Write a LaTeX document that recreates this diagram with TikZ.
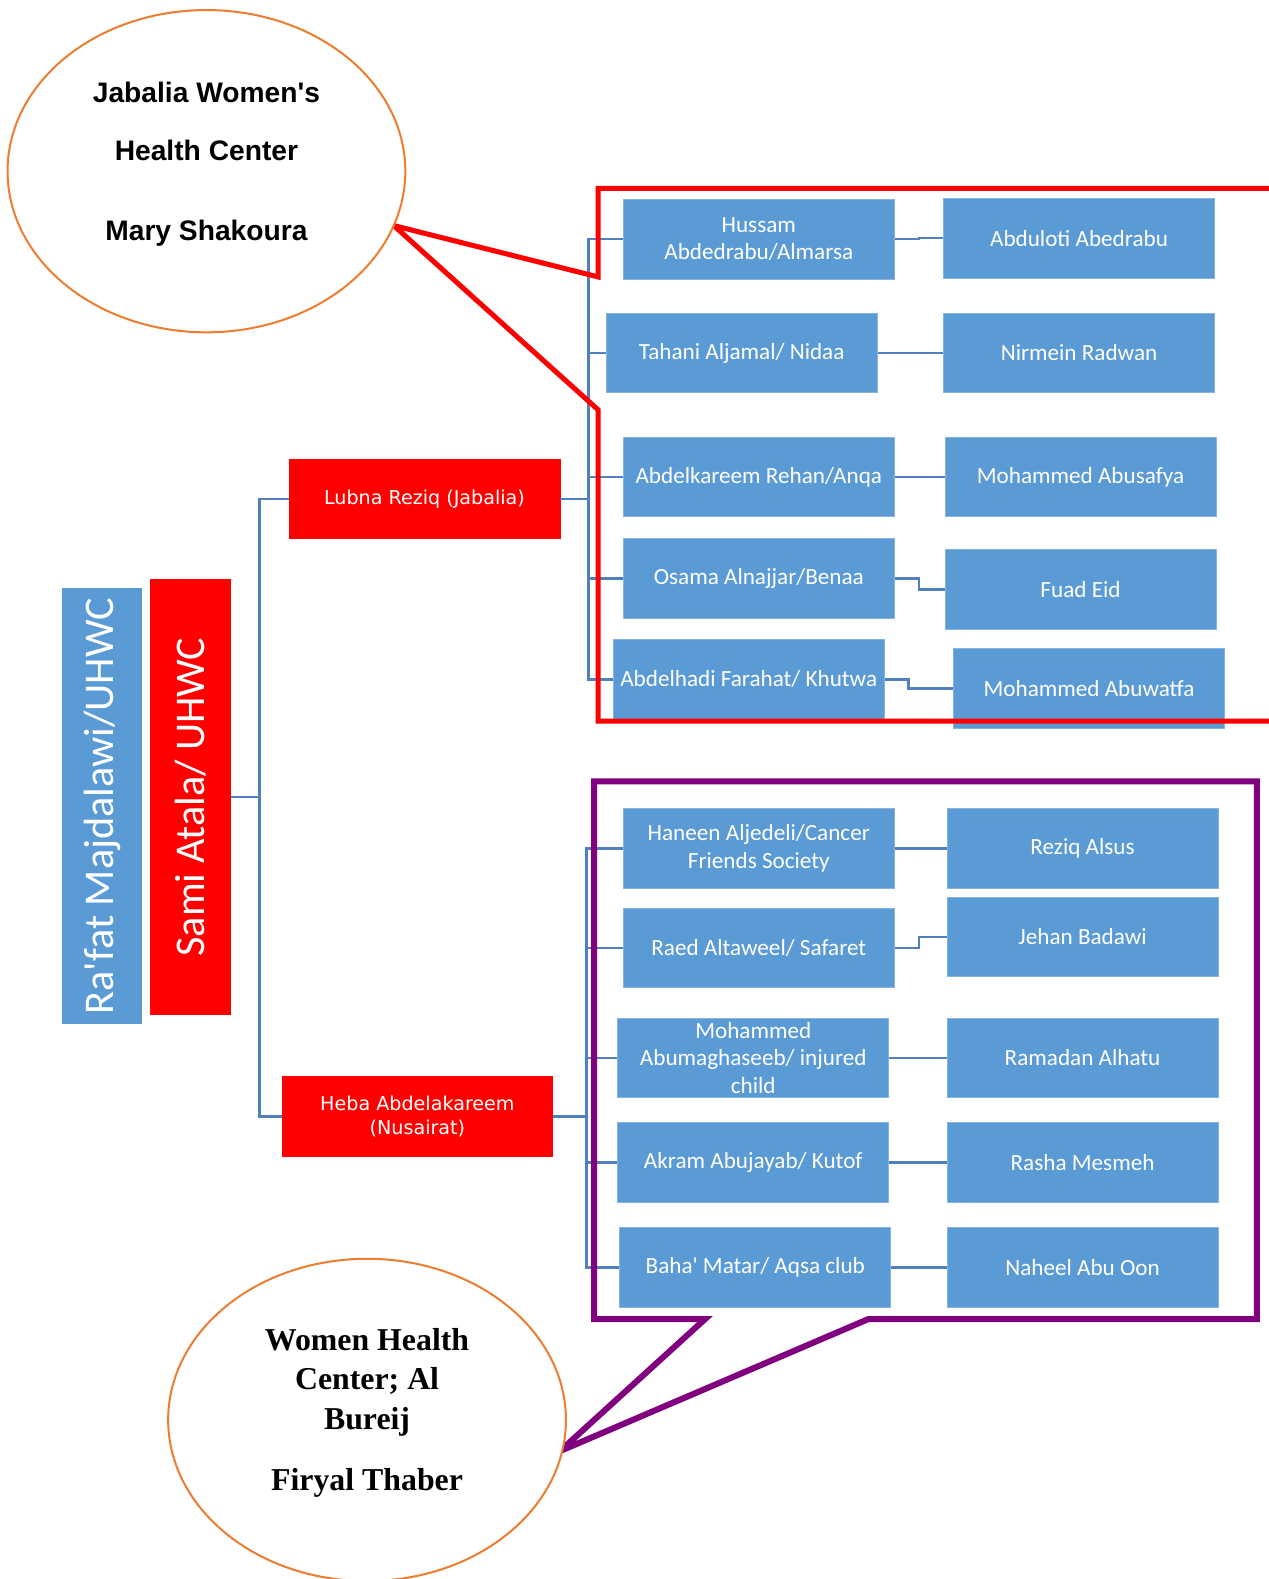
\documentclass[tikz,border=0pt]{standalone}
\usepackage{fontspec}
\setmainfont{Carlito}
\newfontfamily\verdanafont{DejaVu Sans}
\newfontfamily\arialfont{Liberation Sans}
\newfontfamily\timesfont{Liberation Serif}
\usetikzlibrary{shapes.geometric}

\definecolor{boxblue}{HTML}{5B9BD5}
\definecolor{linkblue}{HTML}{5080BE}
\definecolor{framepurple}{HTML}{800080}
\definecolor{rimorange}{HTML}{ED7D31}

\tikzset{
  member/.style={rectangle, fill=boxblue, draw=boxblue!75!white, text=white,
    minimum width=134.5pt, minimum height=39.5pt, inner sep=1pt, align=center,
    font=\fontsize{11.5}{13.5}\selectfont},
  coordinator/.style={member, fill=red, draw=red,
    font=\verdanafont\fontsize{9.5}{12}\selectfont},
  head/.style={rectangle, minimum width=216.5pt, minimum height=39.5pt,
    rotate=90, text=white, font=\fontsize{21}{24}\selectfont},
  link/.style={draw=linkblue, line width=1.3pt},
  centre/.style={ellipse, draw=rimorange, line width=1pt, fill=white,
    minimum width=197.5pt, minimum height=160pt},
}

\begin{document}
\begin{tikzpicture}[x=0.5pt,y=-0.5pt]
    \useasboundingbox (0,0) rectangle (1260,1568);

    % heads
    \node[head, fill=boxblue] (rafat) at (101.5,800.5) {Ra\textquotesingle fat Majdalawi/UHWC};
    \node[head, fill=red, minimum height=40pt] (sami) at (189,791.5) {Sami Atala/ UHWC};

    % coordinators
    \node[coordinator] (lubna) at (421.5,495.5) {Lubna Reziq (Jabalia)};
    \node[coordinator] (heba) at (414.5,1108.5) {Heba Abdelakareem\\(Nusairat)};

    % Jabalia group
    \node[member] (hussam) at (753.5,237.5) {Hussam\\Abdedrabu/Almarsa};
    \node[member] (abduloti) at (1071.5,236.5) {Abduloti Abedrabu};
    \node[member] (tahani) at (736.5,350.5) {Tahani Aljamal/ Nidaa};
    \node[member] (nirmein) at (1071.5,350.5) {Nirmein Radwan};
    \node[member] (abdelkareem) at (753.5,473.5) {Abdelkareem Rehan/Anqa};
    \node[member] (abusafya) at (1073,473.5) {Mohammed Abusafya};
    \node[member] (osama) at (753.5,574.5) {Osama Alnajjar/Benaa};
    \node[member] (fuad) at (1073,585.5) {Fuad Eid};
    \node[member] (abdelhadi) at (743.5,674.5) {Abdelhadi Farahat/ Khutwa};
    \node[member] (abuwatfa) at (1081.5,683.5) {Mohammed Abuwatfa};

    % Nusairat group
    \node[member] (haneen) at (753.5,842.5) {Haneen Aljedeli/Cancer\\Friends Society};
    \node[member] (reziq) at (1075,842.5) {Reziq Alsus};
    \node[member] (raed) at (753.5,941.5) {Raed Altaweel/ Safaret};
    \node[member] (jehan) at (1075,930.5) {Jehan Badawi};
    \node[member] (abumaghaseeb) at (748,1050.5) {Mohammed\\Abumaghaseeb/ injured\\child};
    \node[member] (ramadan) at (1075,1050.5) {Ramadan Alhatu};
    \node[member] (akram) at (748,1154.5) {Akram Abujayab/ Kutof};
    \node[member] (rasha) at (1075,1154.5) {Rasha Mesmeh};
    \node[member] (baha) at (750,1258.5) {Baha\textquotesingle\ Matar/ Aqsa club};
    \node[member] (naheel) at (1075,1258.5) {Naheel Abu Oon};

    % connectors
    \foreach \c in {lubna,heba}
      \draw[link] (sami.south) -- ++(28,0) |- (\c.west);
    \foreach \c in {hussam,tahani,abdelkareem,osama,abdelhadi}
      \draw[link] (lubna.east) -- ++(28,0) |- (\c.west);
    \foreach \c in {haneen,raed,abumaghaseeb,akram,baha}
      \draw[link] (heba.east) -- ++(33,0) |- (\c.west);
    \foreach \a/\b in {hussam/abduloti,tahani/nirmein,abdelkareem/abusafya,
        osama/fuad,abdelhadi/abuwatfa,haneen/reziq,raed/jehan,
        abumaghaseeb/ramadan,akram/rasha,baha/naheel}
      \draw[link] (\a.east) -- ++(24,0) |- (\b.west);

    % callout frames
    \coordinate (jabtip) at (391,224);
    \coordinate (burtip) at (556,1441);
    \draw[red, line width=2.5pt] (1275,187) -- (594,187) -- (594,275) -- (jabtip)
      -- (594,407) -- (594,716) -- (1275,716);
    \draw[framepurple, line width=3pt] (700,1310) -- (590,1310) -- (590,776)
      -- (1248,776) -- (1248,1310) -- (862,1310) -- (burtip) -- cycle;

    % centres
    \node[centre] (jabalia) at (205,170) {};
    \node[font=\arialfont\bfseries\fontsize{14}{16}\selectfont, align=center] (jabtext) at (205,163)
      {Jabalia Women\textquotesingle s\\[13pt] Health Center\\[23.5pt] Mary Shakoura};
    \node[centre] (bureij) at (364.5,1410) {};
    \node[font=\timesfont\bfseries\fontsize{15.8}{19.5}\selectfont, align=center] (burtext) at (364.5,1403)
      {Women Health\\ Center; Al\\ Bureij\\[11pt] Firyal Thaber};
\end{tikzpicture}
\end{document}
